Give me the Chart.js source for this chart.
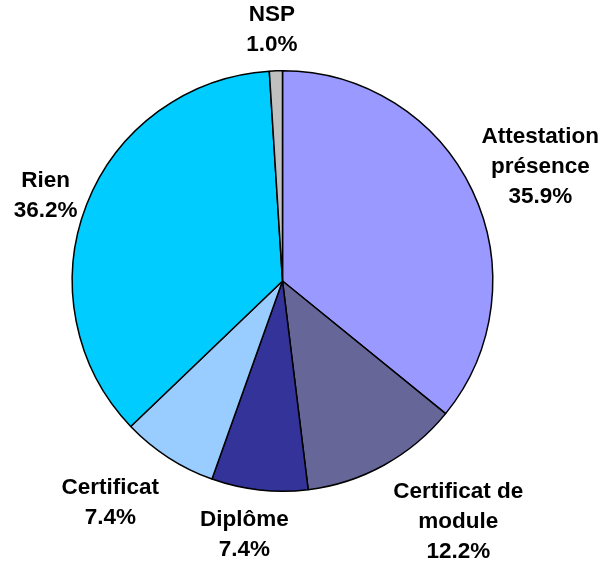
<!DOCTYPE html>
<html>
<head>
<meta charset="utf-8">
<script src="https://cdn.jsdelivr.net/npm/chart.js@4"></script>
<style>
    body { margin: 0; background: #ffffff; }
    #wrap { width: 599px; height: 562px; }
</style>
</head>
<body>
<div id="wrap"><canvas id="pieChart" width="599" height="562"></canvas></div>
<script>
// Chart data
const categories = [
    ['Attestation', 'présence'],
    ['Certificat de', 'module'],
    ['Diplôme'],
    ['Certificat'],
    ['Rien'],
    ['NSP']
];
const shares = [35.9, 12.2, 7.4, 7.4, 36.2, 1.0];
const sliceColors = ['#9999FF', '#666699', '#333399', '#99CCFF', '#00CCFF', '#C0C0C0'];

// Where each label sits, relative to the middle of its slice's outer edge
const labelOffsets = [[68, -24], [74, 57], [-15, 45], [-58, 45], [-41, -9], [-4, -41]];

// Draws the outside labels (name + percent)
const outsideLabels = {
    id: 'outsideLabels',
    afterDatasetsDraw(chart) {
        const ctx = chart.ctx;
        const arcs = chart.getDatasetMeta(0).data;
        ctx.save();
        ctx.font = 'bold 22.5px "Liberation Sans", Arial, sans-serif';
        ctx.fillStyle = '#000000';
        ctx.textAlign = 'center';
        ctx.textBaseline = 'middle';
        arcs.forEach((arc, i) => {
            const p = arc.getProps(['x', 'y', 'startAngle', 'endAngle', 'outerRadius'], true);
            const mid = (p.startAngle + p.endAngle) / 2;
            const ex = p.x + Math.cos(mid) * p.outerRadius;
            const ey = p.y + Math.sin(mid) * p.outerRadius;
            const lines = categories[i].concat([shares[i].toFixed(1) + '%']);
            const lineH = 30;
            const cx = ex + labelOffsets[i][0];
            const cy = ey + labelOffsets[i][1];
            const top = cy - (lines.length - 1) * lineH / 2;
            lines.forEach((t, k) => ctx.fillText(t, cx, top + k * lineH));
        });
        ctx.restore();
    }
};

const ctx = document.getElementById('pieChart').getContext('2d');
new Chart(ctx, {
    type: 'pie',
    data: {
        labels: categories.map(c => c.join(' ')),
        datasets: [{
            data: shares,
            backgroundColor: sliceColors,
            borderColor: '#000000',
            borderWidth: 1.5
        }]
    },
    options: {
        responsive: false,
        animation: false,
        layout: {
            padding: { left: 71, right: 105, top: 70, bottom: 70 }
        },
        plugins: {
            legend: { display: false },
            tooltip: { enabled: false }
        }
    },
    plugins: [outsideLabels]
});
</script>
</body>
</html>
